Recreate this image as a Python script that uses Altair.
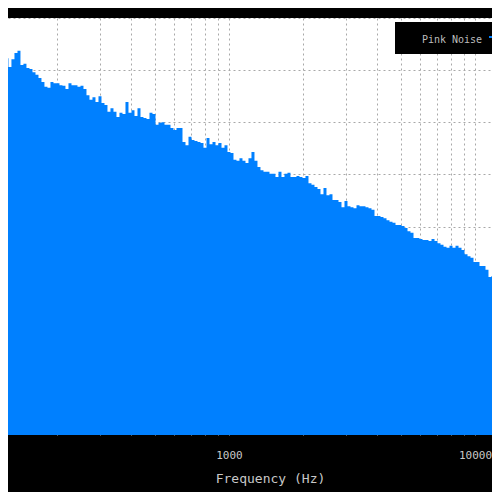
import altair as alt
import pandas as pd

series_name = ["Pink Noise"]

freq_hz = [
    118.3, 121.7, 125.2, 128.7, 132.4, 136.2, 140.1, 144.0, 148.1, 152.4,
    156.7, 161.2, 165.8, 170.5, 175.3, 180.3, 185.5, 190.7, 196.2, 201.8,
    207.5, 213.4, 219.5, 225.8, 232.2, 238.8, 245.6, 252.6, 259.8, 267.2,
    274.8, 282.6, 290.7, 299.0, 307.5, 316.2, 325.2, 334.5, 344.0, 353.8,
    363.9, 374.3, 384.9, 395.9, 407.2, 418.8, 430.7, 443.0, 455.6, 468.6,
    481.9, 495.6, 509.8, 524.3, 539.2, 554.6, 570.4, 586.6, 603.3, 620.5,
    638.2, 656.3, 675.0, 694.3, 714.0, 734.4, 755.3, 776.8, 798.9, 821.7,
    845.1, 869.2, 893.9, 919.4, 945.6, 972.3, 1000.0, 1028.5, 1057.7, 1087.8,
    1118.7, 1150.6, 1183.4, 1217.1, 1251.7, 1287.4, 1324.0, 1361.7, 1400.5, 1440.4,
    1481.4, 1523.6, 1567.0, 1611.6, 1657.5, 1704.7, 1753.3, 1803.2, 1854.6, 1907.4,
    1961.7, 2017.6, 2075.1, 2134.2, 2195.0, 2257.5, 2321.8, 2387.9, 2456.0, 2525.9,
    2597.9, 2671.9, 2748.0, 2826.2, 2906.7, 2989.5, 3074.7, 3162.3, 3252.4, 3345.0,
    3440.3, 3538.3, 3639.1, 3742.7, 3849.3, 3959.0, 4071.7, 4187.7, 4307.0, 4429.7,
    4555.8, 4685.6, 4819.1, 4956.3, 5097.5, 5242.7, 5392.0, 5545.6, 5703.6, 5866.0,
    6033.1, 6204.9, 6381.7, 6563.4, 6750.4, 6942.7, 7140.4, 7343.8, 7553.0, 7768.1,
    7989.4, 8217.0, 8451.0, 8691.7, 8939.3, 9193.9, 9455.8, 9723.1, 10000.0, 10285.0,
    10577.0, 10878.0, 11187.0, 11506.0, 11834.0, 12171.0, 12517.0,
]

level_db = [
    -7.1, -6.9, -7.7, -9.4, -7.9, -6.7, -6.3, -9.0, -8.8, -9.6,
    -9.8, -10.4, -10.9, -11.5, -12.3, -13.2, -13.4, -12.3, -12.5, -12.5,
    -12.9, -13.0, -13.6, -12.5, -12.9, -12.9, -13.2, -13.0, -13.6, -14.8,
    -15.7, -15.2, -16.1, -15.0, -16.3, -16.7, -18.0, -17.3, -18.0, -19.0,
    -18.2, -18.4, -16.1, -18.2, -17.7, -18.8, -17.3, -19.0, -19.2, -19.4,
    -18.2, -18.4, -20.5, -20.1, -20.0, -20.5, -20.5, -21.1, -21.5, -21.1,
    -21.1, -23.8, -24.4, -22.8, -23.4, -23.6, -23.8, -24.0, -24.9, -23.0,
    -24.2, -23.8, -24.4, -24.0, -24.9, -24.4, -25.7, -25.9, -27.2, -27.4,
    -26.9, -27.4, -27.8, -26.9, -25.7, -27.4, -28.6, -29.2, -29.5, -29.5,
    -29.9, -29.9, -30.5, -29.5, -30.5, -29.9, -29.7, -30.5, -30.5, -30.3,
    -30.5, -30.7, -30.3, -31.7, -32.0, -32.4, -32.8, -33.8, -32.6, -34.0,
    -33.8, -34.9, -34.9, -35.3, -36.3, -35.1, -36.1, -36.3, -36.5, -35.9,
    -36.1, -36.1, -36.3, -36.5, -36.8, -38.0, -38.0, -38.2, -38.4, -38.8,
    -39.1, -39.3, -39.7, -39.7, -39.9, -40.3, -40.9, -41.2, -42.2, -42.2,
    -42.4, -42.6, -42.6, -42.8, -42.4, -42.8, -43.2, -43.5, -43.9, -44.1,
    -43.7, -44.1, -43.7, -44.1, -44.5, -45.3, -45.7, -46.0, -46.8, -46.8,
    -47.6, -47.6, -48.3, -49.7, -49.5, -49.1, -48.7,
]

x_grid = [200, 300, 400, 500, 600, 700, 800, 900, 1000,
          2000, 3000, 4000, 5000, 6000, 7000, 8000, 9000, 10000]
x_labels = [1000, 10000]
y_grid = [-70, -60, -50, -40, -30, -20, -10, 0]

df = pd.DataFrame({"freq": freq_hz, "level": level_db, "series": series_name[0]})

label_test = " || ".join(f"datum.value == {v}" for v in x_labels)

area = alt.Chart(df).mark_area(
    color="#0080ff", interpolate="step", clip=True, opacity=1
).encode(
    x=alt.X(
        "freq:Q",
        scale=alt.Scale(type="log", domain=[126.4, 11725], nice=False),
        axis=alt.Axis(
            values=x_grid,
            format="d",
            labelExpr=f"({label_test}) ? datum.label : ''",
            title="Frequency (Hz)",
            grid=True,
            ticks=False,
            domain=False,
            labelPadding=14,
            labelFontSize=11,
            labelColor="#c8c8c8",
            labelFont="DejaVu Sans Mono",
            titleFont="DejaVu Sans Mono",
            titleFontSize=13,
            titleFontWeight="normal",
            titleColor="#c8c8c8",
            titleX=262,
            titleY=43,
            titleBaseline="middle",
            labelFlush=False,
            labelOverlap=False,
        ),
    ),
    y=alt.Y(
        "level:Q",
        scale=alt.Scale(domain=[-80, 0], nice=False, zero=False),
        axis=alt.Axis(values=y_grid, labels=False, ticks=False, domain=False,
                      title=None, grid=True),
    ),
    y2=alt.datum(-80),
)

legend_df = pd.DataFrame({"series": series_name})

legend_box = alt.Chart(legend_df).mark_rect(color="black").encode(
    x=alt.value(387), x2=alt.value(484), y=alt.value(4), y2=alt.value(36)
)
legend_text = alt.Chart(legend_df).mark_text(
    color="#bdbdbd", font="DejaVu Sans Mono", fontSize=10, align="center", baseline="middle"
).encode(
    x=alt.value(444), y=alt.value(22), text="series:N"
)
legend_sym = alt.Chart(legend_df).mark_rule(color="#0080ff", strokeWidth=2).encode(
    x=alt.value(481), x2=alt.value(484), y=alt.value(19)
)

chart = alt.layer(area, legend_box, legend_text, legend_sym).properties(
    width=484,
    height=417,
    autosize=alt.AutoSizeParams(type="none"),
    padding={"left": 0, "top": 10, "right": 0, "bottom": 57},
    background="black",
).configure_view(
    fill="white", stroke=None
).configure_axis(
    gridColor="#a8a8a8", gridDash=[2, 3], gridWidth=1, gridOpacity=1
)

chart.save("out.html", embed_options={"renderer": "svg", "actions": False})
